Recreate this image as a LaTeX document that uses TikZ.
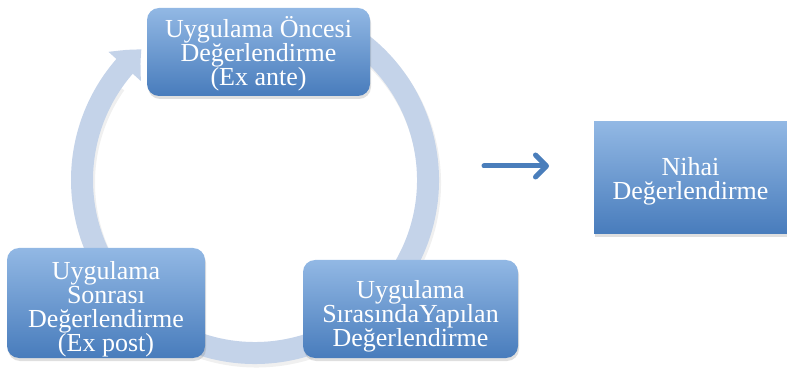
\documentclass[tikz,border=0pt]{standalone}
\usepackage{fontspec}
\setmainfont{Liberation Serif}
\usetikzlibrary{arrows.meta,bending,shadows,calc}
\definecolor{boxtop}{RGB}{146,184,228}
\definecolor{boxbot}{RGB}{72,124,188}
\definecolor{ringc}{RGB}{196,211,233}
\definecolor{arrowc}{RGB}{74,126,187}
\tikzset{
  stagebox/.style={rounded corners=12pt, top color=boxtop, bottom color=boxbot,
    inner sep=0pt, drop shadow={shadow xshift=1pt, shadow yshift=-3pt, opacity=0.25}},
  finalbox/.style={stagebox, rounded corners=0pt},
  stagetext/.style={text=white, align=center, font=\fontsize{26}{24}\selectfont, inner sep=0pt},
  ring/.style={line width=22pt, draw=ringc},
}
\begin{document}
\begin{tikzpicture}[x=1pt,y=1pt]
\useasboundingbox (0,0) rectangle (787,-379);
% ring shadow
\draw[line width=23pt, draw=black, opacity=0.06]
  ($(255+1.5,-180-3)+(60:173)$) arc[start angle=60, end angle=-215, radius=173];
% ring
\draw[ring, -{Triangle[length=24pt, width=42pt, bend]}]
  ($(255,-180)+(60:173)$) arc[start angle=60, end angle=-229, radius=173];
% boxes
\node[stagebox, minimum width=223pt, minimum height=88pt] (pre) at (258.5,-52) {};
\node[stagetext] (pretext) at ($(pre.center)+(0,-2)$)
  {Uygulama Öncesi\\Değerlendirme\\(Ex ante)};
\node[stagebox, minimum width=198pt, minimum height=110pt] (post) at (106,-303) {};
\node[stagetext] (posttext) at ($(post.center)+(0,-6)$)
  {Uygulama\\Sonrası\\Değerlendirme\\(Ex post)};
\node[stagebox, minimum width=215pt, minimum height=98pt] (during) at (410.5,-309) {};
\node[stagetext] (duringtext) at ($(during.center)+(0,-7)$)
  {Uygulama\\SırasındaYapılan\\Değerlendirme};
\node[finalbox, minimum width=193pt, minimum height=112pt] (final) at (690.5,-178) {};
\node[stagetext] (finaltext) at ($(final.center)+(0,-3)$)
  {Nihai\\Değerlendirme};
% arrow
\coordinate (a1) at (484,-166);
\coordinate (a2) at (549,-166);
\draw[line width=5pt, draw=arrowc, line cap=round,
  -{Straight Barb[length=11pt, width=22pt, line cap=round, line join=round]}] (a1) -- (a2);
\end{tikzpicture}
\end{document}
